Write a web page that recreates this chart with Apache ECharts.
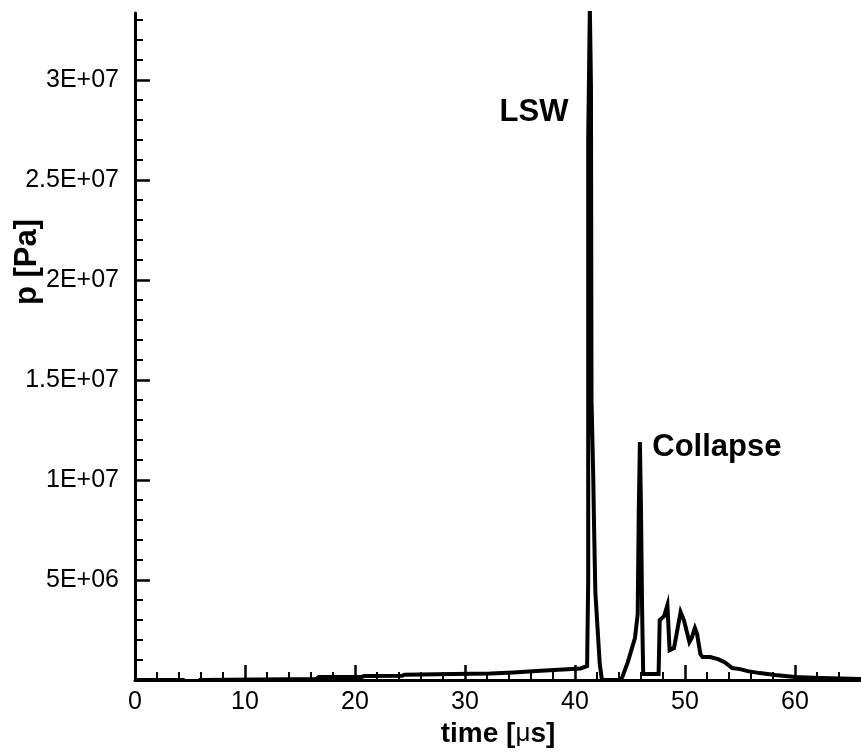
<!DOCTYPE html>
<html>
<head>
<meta charset="utf-8">
<script src="https://cdn.jsdelivr.net/npm/echarts@6/dist/echarts.min.js"></script>
<style>
  html, body { margin: 0; padding: 0; background: #fff; overflow: hidden; }
  #chart { width: 861px; height: 753px; }
</style>
</head>
<body>
<div id="chart"></div>
<script>
// time in microseconds
const time = [
  0, 4.4, 4.6, 5.7, 5.9, 16.5, 16.7, 20.6, 20.8, 24.3, 24.5, 29.0, 32.3, 34.4, 36.5, 38.5, 40.5,
  41.1, 41.2, 41.2, 41.35, 41.45, 41.5, 41.65, 41.75, 41.85, 42.25, 42.45,
  44.1, 44.3, 44.8, 45.45, 45.7, 45.8, 45.9, 46.0, 46.1, 46.2,
  47.6, 47.7, 48.1, 48.4, 48.6, 49.0, 49.6, 49.9, 50.4, 50.6, 50.9, 51.1, 51.4, 51.6,
  52.3, 53.0, 53.6, 54.3, 55.0, 55.7, 56.8, 58.2, 60.0, 62.3, 66.0
];
// pressure in Pa
const pressure = [
  0, 0, -0.1e6, -0.1e6, 0, 0.05e6, 0.15e6, 0.15e6, 0.2e6, 0.22e6, 0.27e6, 0.3e6, 0.33e6, 0.38e6, 0.45e6, 0.52e6, 0.58e6,
  0.7e6, 5e6, 27e6, 33.6e6, 29.8e6, 14e6, 10.4e6, 7.2e6, 4.4e6, 0.8e6, 0,
  0, 0.15e6, 0.9e6, 2.1e6, 3.3e6, 8.5e6, 11.9e6, 8.5e6, 3.5e6, 0.3e6,
  0.3e6, 3.0e6, 3.2e6, 3.75e6, 1.5e6, 1.6e6, 3.4e6, 3.0e6, 1.9e6, 2.1e6, 2.6e6, 2.3e6, 1.3e6, 1.15e6,
  1.15e6, 1.05e6, 0.9e6, 0.6e6, 0.55e6, 0.45e6, 0.35e6, 0.25e6, 0.15e6, 0.1e6, 0.05e6
];
const xTickValues = [0, 10, 20, 30, 40, 50, 60];
const xTickLabels = ['0', '10', '20', '30', '40', '50', '60'];
const yTickValues = [5e6, 10e6, 15e6, 20e6, 25e6, 30e6];
const yTickLabels = ['5E+06', '1E+07', '1.5E+07', '2E+07', '2.5E+07', '3E+07'];
const annotations = [
  { name: 'LSW', t: 36.27, p: 28.4e6 },
  { name: 'Collapse', t: 52.9, p: 11.63e6 }
];

const FONT = "'Liberation Sans', Arial, Helvetica, sans-serif";
const chart = echarts.init(document.getElementById('chart'), null, { renderer: 'canvas' });

const seriesData = time.map((t, i) => [t, pressure[i]]);

chart.setOption({
  animation: false,
  backgroundColor: '#ffffff',
  grid: { left: 135, right: 0, top: 13, bottom: 65, containLabel: false },
  xAxis: {
    type: 'value',
    min: 0,
    max: 66,
    interval: 10,
    name: '{b|time [}{m|μ}{b|s]}',
    nameLocation: 'middle',
    nameGap: 34,
    nameTextStyle: {
      rich: {
        b: { fontFamily: FONT, fontWeight: 'bold', fontSize: 28, color: '#000' },
        m: { fontFamily: FONT, fontWeight: 'normal', fontSize: 26, color: '#000' }
      }
    },
    axisLine: { show: true, onZero: false, lineStyle: { color: '#000', width: 3 } },
    axisTick: { show: true, inside: true, length: 15, customValues: xTickValues, lineStyle: { color: '#000', width: 2.5 } },
    minorTick: { show: true, splitNumber: 5, length: 8, lineStyle: { color: '#000', width: 2 } },
    axisLabel: {
      show: true, margin: 10, customValues: xTickValues,
      fontFamily: FONT, fontSize: 25, color: '#000',
      formatter: v => xTickLabels[xTickValues.indexOf(v)] ?? ''
    },
    splitLine: { show: false }
  },
  yAxis: {
    type: 'value',
    min: 0,
    max: 3.336e7,
    interval: 5e6,
    axisLine: { show: true, onZero: false, lineStyle: { color: '#000', width: 3 } },
    axisTick: { show: true, inside: true, length: 15, customValues: yTickValues, lineStyle: { color: '#000', width: 2.5 } },
    minorTick: { show: true, splitNumber: 5, length: 8, lineStyle: { color: '#000', width: 2 } },
    axisLabel: {
      show: true, margin: 16, customValues: yTickValues,
      fontFamily: FONT, fontSize: 25, color: '#000',
      formatter: v => yTickLabels[yTickValues.indexOf(v)] ?? ''
    },
    splitLine: { show: false }
  },
  graphic: [{
    type: 'text',
    x: 27,
    y: 262,
    rotation: Math.PI / 2,
    style: {
      text: 'p [Pa]',
      fontFamily: FONT,
      fontWeight: 'bold',
      fontSize: 31,
      fill: '#000',
      align: 'center',
      verticalAlign: 'middle'
    }
  }],
  series: [{
    type: 'line',
    data: seriesData,
    showSymbol: false,
    symbol: 'none',
    clip: true,
    lineStyle: { color: '#000', width: 4, join: 'miter' },
    markPoint: {
      symbol: 'circle',
      symbolSize: 1,
      itemStyle: { color: 'rgba(0,0,0,0)' },
      label: {
        show: true,
        position: 'inside',
        formatter: '{b}',
        fontFamily: FONT,
        fontWeight: 'bold',
        fontSize: 31,
        color: '#000'
      },
      data: annotations.map(a => ({ name: a.name, coord: [a.t, a.p] }))
    }
  }]
});
</script>
</body>
</html>
